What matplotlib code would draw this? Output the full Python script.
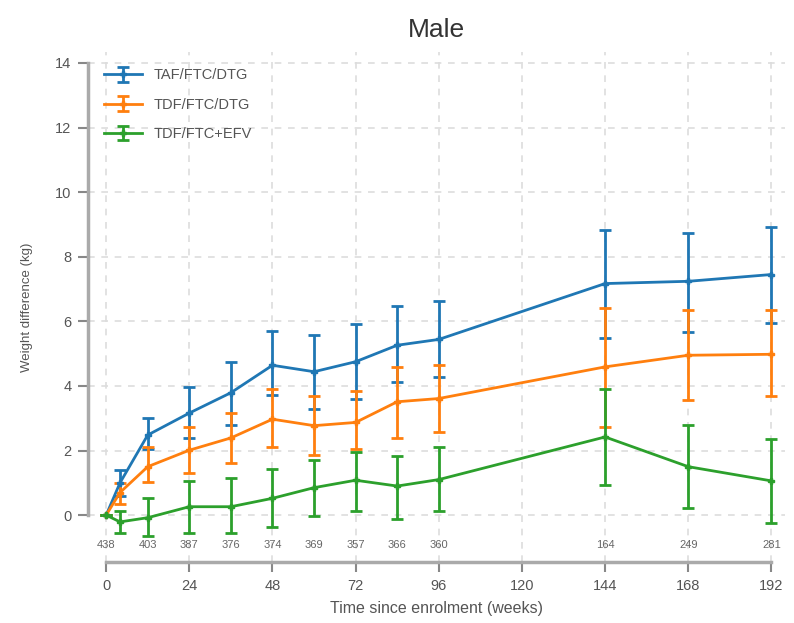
import matplotlib
matplotlib.use("Agg")
import matplotlib.pyplot as plt

plt.rcParams["font.family"] = ["Liberation Sans", "DejaVu Sans"]

# weeks since enrolment
weeks = [0, 4, 12, 24, 36, 48, 60, 72, 84, 96, 144, 168, 192]

# mean weight difference (kg) and CI bounds per regimen
taf_mean = [0.0, 1.0, 2.48, 3.16, 3.79, 4.64, 4.44, 4.75, 5.26, 5.44, 7.17, 7.24, 7.45]
taf_low = [0.0, 0.6, 2.05, 2.38, 2.79, 3.71, 3.30, 3.61, 4.13, 4.28, 5.47, 5.68, 5.95]
taf_high = [0.0, 1.4, 3.0, 3.97, 4.75, 5.70, 5.57, 5.93, 6.47, 6.63, 8.82, 8.74, 8.93]

tdf_mean = [0.0, 0.7, 1.5, 2.01, 2.39, 2.97, 2.77, 2.87, 3.51, 3.61, 4.59, 4.95, 4.98]
tdf_low = [0.0, 0.35, 1.03, 1.31, 1.62, 2.12, 1.86, 2.04, 2.39, 2.58, 2.73, 3.56, 3.68]
tdf_high = [0.0, 1.0, 2.1, 2.73, 3.17, 3.92, 3.68, 3.85, 4.59, 4.64, 6.40, 6.35, 6.35]

efv_mean = [0.0, -0.21, -0.08, 0.26, 0.26, 0.52, 0.85, 1.08, 0.90, 1.10, 2.42, 1.50, 1.06]
efv_low = [0.0, -0.55, -0.65, -0.55, -0.55, -0.37, -0.02, 0.12, -0.13, 0.12, 0.93, 0.21, -0.25]
efv_high = [0.0, 0.12, 0.52, 1.05, 1.16, 1.44, 1.72, 1.96, 1.83, 2.11, 3.89, 2.79, 2.37]

# participants at each visit
count_weeks = [0, 12, 24, 36, 48, 60, 72, 84, 96, 144, 168, 192]
counts = ["438", "403", "387", "376", "374", "369", "357", "366", "360", "164", "249", "281"]

series = [
    ("TAF/FTC/DTG", taf_mean, taf_low, taf_high, "#1f77b4"),
    ("TDF/FTC/DTG", tdf_mean, tdf_low, tdf_high, "#ff7f0e"),
    ("TDF/FTC+EFV", efv_mean, efv_low, efv_high, "#2ca02c"),
]

fig = plt.figure(figsize=(7.94, 6.23), dpi=100)
ax = fig.add_axes([0.111, 0.098, 0.878, 0.818])

for name, mean, low, high, col in series:
    yerr = [[m - l for m, l in zip(mean, low)], [h - m for m, h in zip(mean, high)]]
    ax.errorbar(weeks, mean, yerr=yerr, color=col, ecolor=col, elinewidth=2,
                capsize=4, capthick=2, lw=2, marker="P", ms=5, label=name,
                zorder=3)

for w, c in zip(count_weeks, counts):
    ax.text(w, -0.92, c, ha="center", va="center", fontsize=8, color="#666666")

ax.set_xlim(-5.2, 196)
ax.set_ylim(-1.45, 14.33)
ax.set_xticks(range(0, 193, 24))
ax.set_yticks(range(0, 15, 2))

ax.grid(True, linestyle=(0, (4, 4)), color="#dddddd", lw=1.2)
ax.set_axisbelow(True)

for s in ["top", "right"]:
    ax.spines[s].set_visible(False)
for s in ["left", "bottom"]:
    ax.spines[s].set_color("#aaaaaa")
    ax.spines[s].set_linewidth(2.5)
ax.spines["left"].set_bounds(0, 14)
ax.spines["bottom"].set_bounds(0, 192)
ax.tick_params(colors="#888888", labelcolor="#555555", labelsize=10.5, width=1.5, length=7, pad=5)

ax.set_title("Male", fontsize=19, color="#333333", pad=11)
ax.set_xlabel("Time since enrolment (weeks)", fontsize=11.5, color="#555555", labelpad=6)
ax.set_ylabel("Weight difference (kg)", fontsize=9.5, color="#555555", labelpad=16)

leg = ax.legend(loc="upper left", frameon=False, fontsize=10.5, borderaxespad=0.7,
                labelspacing=1.05, handlelength=2.6)
for t in leg.get_texts():
    t.set_color("#555555")

fig.savefig("out.png", dpi=100)
